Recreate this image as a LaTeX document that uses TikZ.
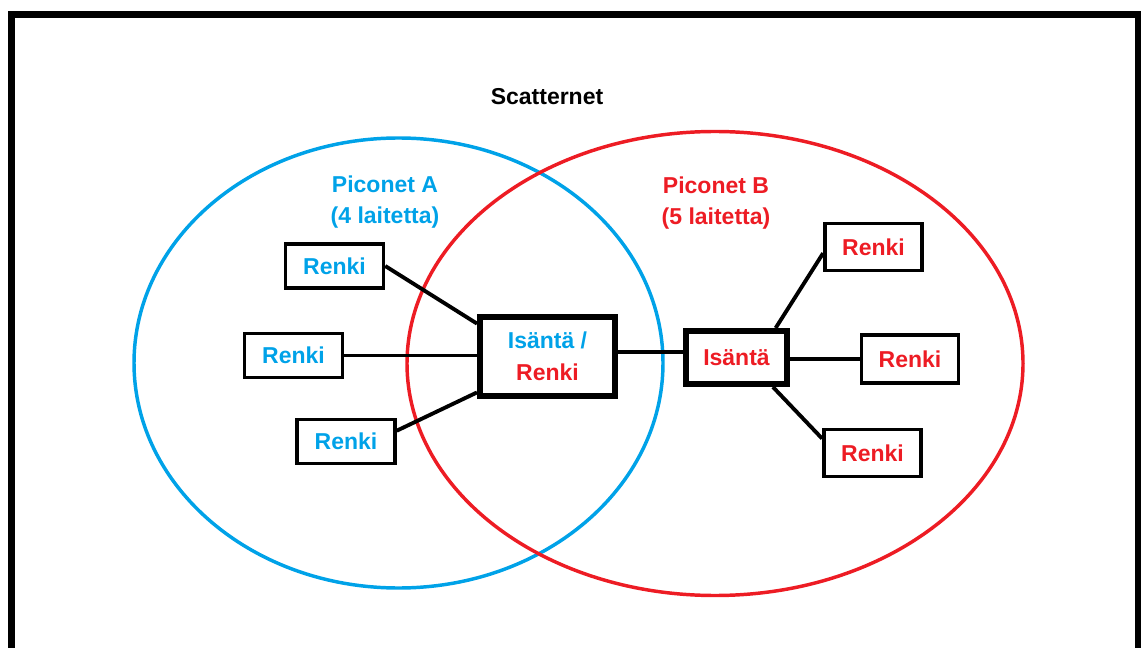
\documentclass[tikz,border=0pt]{standalone}
\usepackage{fontspec}
\setmainfont{Liberation Sans}
\definecolor{pblue}{HTML}{00A2E8}
\definecolor{pred}{HTML}{ED1C24}
\begin{document}
\begin{tikzpicture}[x=0.75pt,y=-0.75pt,
  lbl/.style={font=\bfseries\fontsize{17.25}{21}\selectfont, inner sep=0pt, align=center},
  smallbox/.style={draw=black, line width=2.6pt, inner sep=0pt, font=\bfseries\fontsize{17.25}{21}\selectfont, minimum width=73.5pt, minimum height=33pt},
  bigbox/.style={draw=black, line width=4.5pt, inner sep=0pt, font=\bfseries\fontsize{17.25}{21}\selectfont, align=center},
  conn/.style={draw=black, line width=2.9pt},
  ring/.style={line width=2.6pt}
]
\useasboundingbox (0,0) rectangle (1141,648);
\begin{scope}
\clip (0,0) rectangle (1141,648);
\draw[line width=5.25pt] (11.5,660) -- (11.5,14.5) -- (1138,14.5) -- (1138,660);
\end{scope}
% ellipses
\draw[ring, pblue] (398.5,363) ellipse [x radius=264.5, y radius=225];
\draw[ring, pred] (715,363.5) ellipse [x radius=308, y radius=232];
% titles
\node[lbl] (title) at (547,97) {Scatternet};
\node[lbl, text=pblue] (pa) at (385,202) {Piconet A\\[2pt](4 laitetta)};
\node[lbl, text=pred] (pb) at (716,203) {Piconet B\\[2pt](5 laitetta)};
% boxes
\node[smallbox, text=pblue] (a1) at (334.5,266) {Renki};
\node[smallbox, text=pblue] (a2) at (293.5,355.5) {Renki};
\node[smallbox, text=pblue] (a3) at (346,441.5) {Renki};
\node[bigbox, minimum width=101.25pt, minimum height=59.25pt] (c) at (547.5,356.5) {\textcolor{pblue}{Isäntä /}\\[3pt]\textcolor{pred}{Renki}};
\node[bigbox, minimum width=75.75pt, minimum height=39.75pt, text=pred] (ib) at (736.5,357.5) {Isäntä};
\node[smallbox, text=pred, minimum width=73pt, minimum height=35pt] (b1) at (873.5,247) {Renki};
\node[smallbox, text=pred, minimum width=72.5pt, minimum height=36pt] (b2) at (910,359) {Renki};
\node[smallbox, text=pred, minimum width=73pt, minimum height=35pt] (b3) at (872.5,453) {Renki};
% connectors
\draw[conn] (a1.east) -- (c.155);
\draw[conn] (a2.east) -- (c.west |- a2.east);
\draw[conn] (a3.12) -- (c.207);
\draw[conn] (c.east |- 0,352) -- (ib.west |- 0,352);
\draw[conn] (ib.37) -- (b1.187);
\draw[conn] (ib.east |- b2.west) -- (b2.west);
\draw[conn] (ib.-39) -- (b3.164);
\end{tikzpicture}
\end{document}
